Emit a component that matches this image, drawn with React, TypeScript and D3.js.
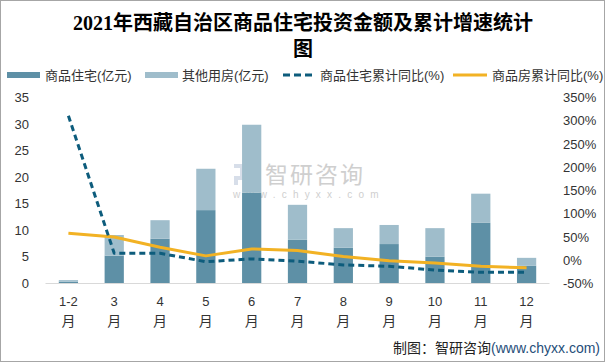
import React from "react";
import * as d3 from "d3";

const categories = ["1-2", "3", "4", "5", "6", "7", "8", "9", "10", "11", "12"];
const residential = [0.3, 5.2, 8.4, 13.8, 17.1, 8.2, 6.7, 7.4, 5.0, 11.4, 3.3];
const otherHousing = [0.3, 3.9, 3.5, 7.8, 12.8, 6.6, 3.7, 3.6, 5.4, 5.5, 1.5];
const residentialYoY = [311, 15, 15, -3, 3, -2, -10, -13, -21, -26, -26];
const commercialYoY = [58, 50, 28, 9.5, 24.5, 21, 8, -1, -6, -13, -16];
const leftTicks = [0, 5, 10, 15, 20, 25, 30, 35];
const rightTicks = [-50, 0, 50, 100, 150, 200, 250, 300, 350];
const legendLabels = ["商品住宅(亿元)", "其他用房(亿元)", "商品住宅累计同比(%)", "商品房累计同比(%)"];
const titleLines = ["2021年西藏自治区商品住宅投资金额及累计增速统计", "图"];

const C_RES = "#5e90a6";
const C_OTH = "#9fbdcb";
const C_DASH = "#0d5c7c";
const C_YEL = "#f2b224";
const SANS = "'Liberation Sans', 'Noto Sans CJK SC', sans-serif";

export default function App() {
  const x = d3.scaleBand<string>().domain(categories).range([45.5, 549.5]).paddingInner(0).paddingOuter(0);
  const yL = d3.scaleLinear().domain([0, 35]).range([283.3, 97.7]);
  const yR = d3.scaleLinear().domain([-50, 350]).range([283.5, 97.7]);
  const bw = x.bandwidth() * 0.42;
  const cx = (c: string) => (x(c) as number) + x.bandwidth() / 2;

  const line = d3
    .line<number>()
    .x((_, i) => cx(categories[i]))
    .y((d) => yR(d));

  return (
    <div style={{ position: "fixed", left: 0, top: 0 }}>
      <svg width={606} height={363} style={{ display: "block", background: "#fff" }}>
        <rect x={0.5} y={0.5} width={604} height={361} fill="#fff" stroke="#a6a6a6" />
        {/* title */}
        {titleLines.map((t, i) => (
          <text
            key={i}
            x={303}
            y={30 + i * 26}
            textAnchor="middle"
            fontFamily="'Liberation Serif', 'Noto Sans CJK SC', serif"
            fontWeight="bold"
            fontSize={20}
            fill="#000"
          >
            {t}
          </text>
        ))}
        {/* watermark */}
        <g opacity={0.55}>
          <rect x={234} y={164} width={10} height={4} fill="#b8c4d8" />
          <rect x={240} y={168} width={4} height={8} fill="#b8c4d8" />
          <rect x={234} y={176} width={10} height={4} fill="#b8c4d8" />
          <rect x={234} y={180} width={4} height={5} fill="#b8c4d8" />
          <rect x={247} y={164} width={11} height={4} fill="#9fb4d0" />
          <rect x={253} y={168} width={5} height={17} fill="#9fb4d0" />
          <rect x={246} y={181} width={10} height={4} fill="#9fb4d0" />
          <text x={265} y={183} fontFamily={SANS} fontSize={23} fill="#a8a8a8" letterSpacing={2}>
            智研咨询
          </text>
          <text x={233} y={198} fontFamily={SANS} fontSize={10} fill="#a8a8a8" letterSpacing={6.2}>
            www.chyxx.com
          </text>
        </g>
        {/* bars */}
        {categories.map((c, i) => {
          const x0 = cx(c) - bw / 2;
          const r = residential[i];
          const o = otherHousing[i];
          return (
            <g key={c}>
              <rect x={x0} y={yL(r)} width={bw} height={yL(0) - yL(r)} fill={C_RES} />
              <rect x={x0} y={yL(r + o)} width={bw} height={yL(r) - yL(r + o)} fill={C_OTH} />
            </g>
          );
        })}
        {/* axis baseline */}
        <line x1={45.5} x2={549.5} y1={283.5} y2={283.5} stroke="#d9d9d9" strokeWidth={1} />
        {/* lines */}
        <path d={line(commercialYoY) || ""} fill="none" stroke={C_YEL} strokeWidth={3} strokeLinejoin="round" />
        <path
          d={line(residentialYoY) || ""}
          fill="none"
          stroke={C_DASH}
          strokeWidth={3}
          strokeDasharray="6,4"
          strokeLinejoin="round"
        />
        {/* left ticks */}
        {leftTicks.map((t) => (
          <text key={t} x={29} y={yL(t) + 4.5} textAnchor="end" fontFamily={SANS} fontSize={13} fill="#333">
            {t}
          </text>
        ))}
        {/* right ticks */}
        {rightTicks.map((t) => (
          <text key={t} x={563} y={yR(t) + 4.5} textAnchor="start" fontFamily={SANS} fontSize={13} fill="#333">
            {t + "%"}
          </text>
        ))}
        {/* x labels */}
        {categories.map((c) => (
          <g key={c}>
            <text x={cx(c)} y={306} textAnchor="middle" fontFamily={SANS} fontSize={13} fill="#333">
              {c}
            </text>
            <text x={cx(c)} y={326} textAnchor="middle" fontFamily={SANS} fontSize={14} fill="#333">
              月
            </text>
          </g>
        ))}
        {/* legend */}
        <g fontFamily={SANS} fontSize={13} fill="#333">
          <rect x={7} y={72} width={33} height={6} fill={C_RES} />
          <text x={45} y={80}>{legendLabels[0]}</text>
          <rect x={145} y={72} width={33} height={6} fill={C_OTH} />
          <text x={182} y={80}>{legendLabels[1]}</text>
          <line x1={283} x2={314} y1={75} y2={75} stroke={C_DASH} strokeWidth={3} strokeDasharray="7,4" />
          <text x={320} y={80}>{legendLabels[2]}</text>
          <line x1={453} x2={487} y1={75} y2={75} stroke={C_YEL} strokeWidth={3} />
          <text x={492} y={80}>{legendLabels[3]}</text>
        </g>
        {/* footer */}
        <text x={600} y={353} textAnchor="end" fontFamily={SANS} fontSize={14} fill="#222">
          制图：智研咨询<tspan fill="#1f4e79">(www.chyxx.com)</tspan>
        </text>
      </svg>
    </div>
  );
}
